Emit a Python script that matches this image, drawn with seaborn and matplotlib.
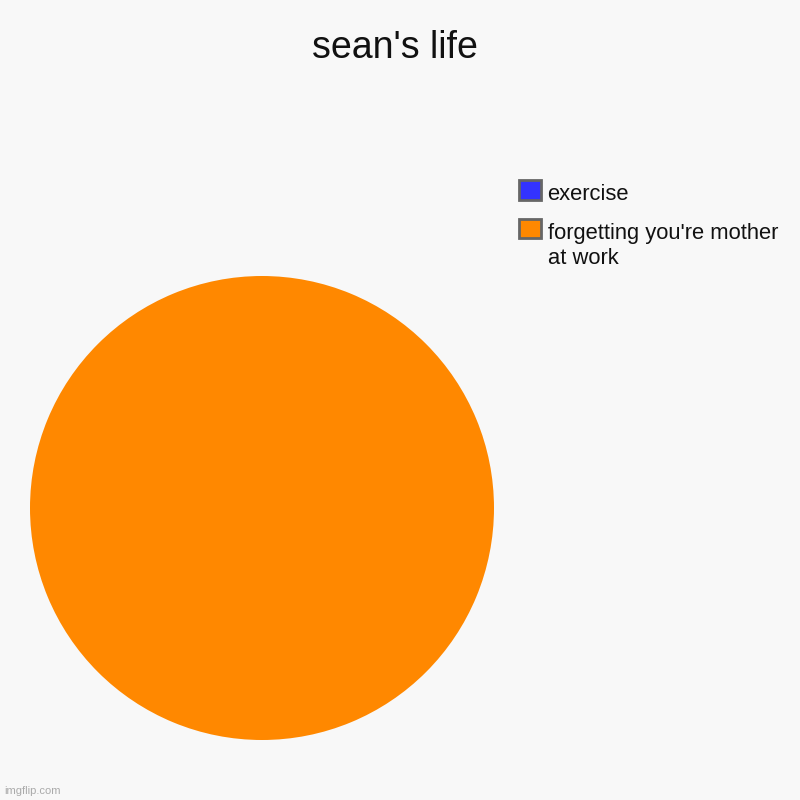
import matplotlib
matplotlib.use("Agg")
import matplotlib.pyplot as plt
import seaborn as sns

labels = ["exercise", "forgetting you're mother\nat work"]
values = [0, 100]
colors = ["#3333ff", "#ff8800"]
title = "sean's life"

sns.set_style("white")
plt.rcParams['font.family'] = ['Liberation Sans', 'DejaVu Sans']

bg = "#f8f8f8"
fig = plt.figure(figsize=(8, 8), dpi=100, facecolor=bg)
ax = fig.add_axes([30 / 800, 60 / 800, 464 / 800, 464 / 800])
ax.set_facecolor(bg)

wedges, _ = ax.pie(values, colors=colors, startangle=90, counterclock=False,
                   wedgeprops=dict(linewidth=0))
ax.set_xlim(-1, 1)
ax.set_ylim(-1, 1)
ax.set_aspect("equal")
ax.axis("off")

fig.text(0.494, 1 - 58 / 800, title, ha="center", va="baseline",
         fontsize=27, color="#111111")

leg = fig.legend(wedges, labels, loc="upper left",
                 bbox_to_anchor=(519 / 800, 1 - 184.5 / 800),
                 frameon=False, fontsize=15.8, handlelength=1.0, handleheight=1.0,
                 handletextpad=0.3, labelspacing=0.78,
                 borderpad=0, borderaxespad=0)
for h in leg.legend_handles:
    h.set_edgecolor("#666666")
    h.set_linewidth(2)
    h.set_y(h.get_y() + 2.9)
for t in leg.get_texts():
    t.set_color("#111111")
    t.set_linespacing(1.25)
# put the box next to the first line of a wrapped label
for col in leg._legend_handle_box.get_children():
    for row in col.get_children():
        row.align = "top"

fig.text(4 / 800, 1 - 791 / 800, "imgflip.com", fontsize=8, color="#aaaaaa", va="center")

fig.savefig("out.png", dpi=100, facecolor=bg)
